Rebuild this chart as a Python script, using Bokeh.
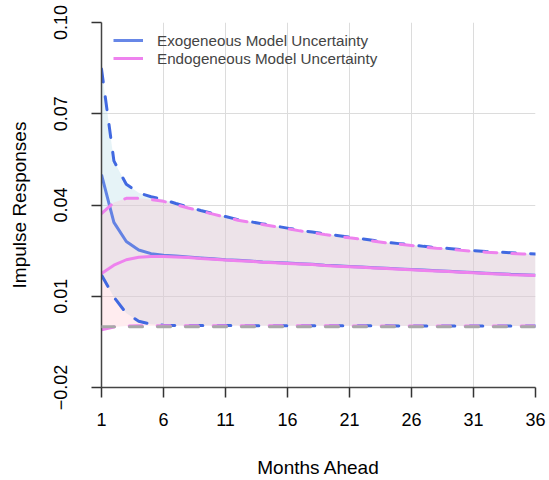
from bokeh.plotting import figure
from bokeh.models import Range1d, FixedTicker, Legend, LegendItem, ColumnDataSource, Span
from bokeh.embed import file_html
from bokeh.resources import INLINE

months = list(range(1, 37))

exo_median = [0.0500, 0.0343, 0.0280, 0.0252, 0.0240, 0.0235, 0.0232, 0.0229, 0.0226, 0.0223,
              0.0220, 0.0218, 0.0216, 0.0213, 0.0211, 0.0209, 0.0207, 0.0205, 0.0202, 0.0200,
              0.0198, 0.0196, 0.0194, 0.0192, 0.0190, 0.0188, 0.0186, 0.0184, 0.0182, 0.0180,
              0.0178, 0.0176, 0.0174, 0.0172, 0.0171, 0.0169]
exo_upper = [0.0847, 0.0545, 0.0468, 0.0440, 0.0427, 0.0418, 0.0405, 0.0393, 0.0382, 0.0372,
             0.0362, 0.0352, 0.0345, 0.0338, 0.0331, 0.0324, 0.0317, 0.0311, 0.0305, 0.0300,
             0.0294, 0.0289, 0.0283, 0.0277, 0.0273, 0.0269, 0.0264, 0.0260, 0.0257, 0.0253,
             0.0250, 0.0247, 0.0245, 0.0243, 0.0241, 0.0239]
exo_lower = [0.0170, 0.0097, 0.0044, 0.0018, 0.0008, 0.0005, 0.0004, 0.0004, 0.0004, 0.0004,
             0.0004, 0.0004, 0.0003, 0.0003, 0.0003, 0.0003, 0.0003, 0.0003, 0.0003, 0.0003,
             0.0003, 0.0003, 0.0003, 0.0003, 0.0002, 0.0002, 0.0002, 0.0002, 0.0002, 0.0002,
             0.0002, 0.0002, 0.0002, 0.0002, 0.0002, 0.0002]

endo_median = [0.0175, 0.0202, 0.0220, 0.0228, 0.0231, 0.0231, 0.0229, 0.0227, 0.0224, 0.0222,
               0.0219, 0.0217, 0.0215, 0.0212, 0.0210, 0.0208, 0.0206, 0.0204, 0.0201, 0.0199,
               0.0197, 0.0195, 0.0193, 0.0191, 0.0189, 0.0187, 0.0185, 0.0183, 0.0181, 0.0179,
               0.0177, 0.0175, 0.0173, 0.0171, 0.0170, 0.0168]
endo_upper = [0.0372, 0.0408, 0.0422, 0.0422, 0.0418, 0.0412, 0.0401, 0.0390, 0.0380, 0.0370,
              0.0360, 0.0350, 0.0343, 0.0336, 0.0329, 0.0322, 0.0315, 0.0309, 0.0303, 0.0298,
              0.0292, 0.0287, 0.0281, 0.0275, 0.0271, 0.0267, 0.0262, 0.0258, 0.0255, 0.0251,
              0.0248, 0.0245, 0.0243, 0.0241, 0.0239, 0.0237]
endo_lower = [-0.0010, -0.0001, 0.0002, 0.0003, 0.0003, 0.0003, 0.0003, 0.0003, 0.0003, 0.0003,
              0.0003, 0.0003, 0.0003, 0.0003, 0.0003, 0.0003, 0.0003, 0.0003, 0.0003, 0.0003,
              0.0002, 0.0002, 0.0002, 0.0002, 0.0002, 0.0002, 0.0002, 0.0002, 0.0002, 0.0002,
              0.0002, 0.0002, 0.0002, 0.0002, 0.0002, 0.0002]

x_ticks = [1, 6, 11, 16, 21, 26, 31, 36]
y_ticks = [-0.02, 0.01, 0.04, 0.07, 0.10]
y_tick_labels = ["\u22120.02", "0.01", "0.04", "0.07", "0.10"]
zero_ref = 0.0

series_names = ["Exogeneous Model Uncertainty", "Endogeneous Model Uncertainty"]

BLUE = "#4169E1"
PINK = "#EE82EE"
FONT = "Liberation Sans"

src = ColumnDataSource(dict(month=months, exo_m=exo_median, exo_u=exo_upper, exo_l=exo_lower,
                            endo_m=endo_median, endo_u=endo_upper, endo_l=endo_lower))

p = figure(width=549, height=480, output_backend="svg", toolbar_location=None,
           x_range=Range1d(1, 36), y_range=Range1d(-0.02, 0.10),
           min_border_left=101, min_border_right=14, min_border_top=22, min_border_bottom=93)
p.outline_line_color = None
p.background_fill_color = "white"

p.varea(x="month", y1="exo_l", y2="exo_u", source=src, fill_color="#ADD8E6", fill_alpha=0.3)
p.varea(x="month", y1="endo_l", y2="endo_u", source=src, fill_color="#FFC0CB", fill_alpha=0.3)

dash = "13 15"
r_exo_m = p.line("month", "exo_m", source=src, line_color=BLUE, line_width=3, line_alpha=0.8)
p.line("month", "exo_u", source=src, line_color=BLUE, line_width=3, line_dash=dash, line_cap="round")
p.line("month", "exo_l", source=src, line_color=BLUE, line_width=3, line_dash=dash, line_cap="round")
r_endo_m = p.line("month", "endo_m", source=src, line_color=PINK, line_width=3)
p.line("month", "endo_u", source=src, line_color=PINK, line_width=3, line_dash=dash, line_cap="round")
p.line("month", "endo_l", source=src, line_color=PINK, line_width=3, line_dash=dash, line_cap="round")

p.add_layout(Span(location=zero_ref, dimension="width", line_color="#A8A8A8", line_width=3,
                  line_dash=dash, line_cap="round"))

# axes
p.xaxis.ticker = FixedTicker(ticks=x_ticks)
p.yaxis.ticker = FixedTicker(ticks=y_ticks)
p.yaxis.major_label_overrides = {t: l for t, l in zip(y_ticks, y_tick_labels)}
p.yaxis.major_label_orientation = "vertical"
p.xaxis.axis_label = "Months Ahead"
p.yaxis.axis_label = "Impulse Responses"
for ax in (p.xaxis, p.yaxis):
    ax.axis_line_color = "#444444"
    ax.axis_line_width = 1.5
    ax.major_tick_line_color = "#333333"
    ax.major_tick_line_width = 1.5
    ax.major_tick_out = 10
    ax.major_tick_in = 0
    ax.minor_tick_out = 0
    ax.minor_tick_in = 0
    ax.major_label_text_font = FONT
    ax.major_label_text_font_size = "18px"
    ax.major_label_text_color = "black"
    ax.axis_label_text_font = FONT
    ax.axis_label_text_font_size = "19px"
    ax.axis_label_text_font_style = "normal"
    ax.axis_label_text_color = "black"
p.xaxis.major_label_standoff = 15
p.xaxis.axis_label_standoff = 28
p.yaxis.major_label_standoff = 25
p.yaxis.axis_label_standoff = 21

p.grid.grid_line_color = "#DCDCDC"
p.grid.grid_line_width = 1

legend = Legend(items=[LegendItem(label=series_names[0], renderers=[r_exo_m]),
                       LegendItem(label=series_names[1], renderers=[r_endo_m])],
                location=(12, 320), margin=0, padding=0, spacing=0,
                glyph_width=30, glyph_height=18, label_height=18, label_standoff=14,
                label_text_font=FONT, label_text_font_size="15.2px",
                background_fill_alpha=0, border_line_alpha=0)
p.add_layout(legend)

open("out.html", "w").write(file_html(p, INLINE))
